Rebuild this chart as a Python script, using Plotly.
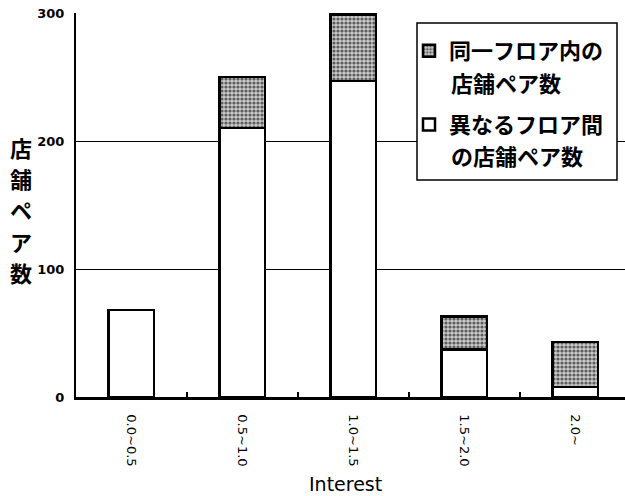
import plotly.graph_objects as go

# Interest ranges and store-pair counts
categories = ["0.0~0.5", "0.5~1.0", "1.0~1.5", "1.5~2.0", "2.0~"]
between_floors = [68, 210, 247, 37, 8]      # pairs on different floors
same_floor = [0, 40, 52, 26, 35]            # pairs on the same floor
y_ticks = [0, 100, 200, 300]

# legend labels, two lines each
label_same = ["同一フロア内の", "店舗ペア数"]
label_between = ["異なるフロア間", "の店舗ペア数"]
y_title_chars = ["店", "舗", "ペ", "ア", "数"]

JP_FONT = "Noto Sans CJK JP"
PLOT_TOP, PLOT_H, PLOT_L, PLOT_W = 13, 384, 76, 549


def px_x(x):
    return (x - PLOT_L) / PLOT_W


def px_y(y):
    return 1 - (y - PLOT_TOP) / PLOT_H


fig = go.Figure()
fig.add_trace(go.Bar(
    x=categories, y=between_floors, name=label_between[0],
    marker=dict(color="white", line=dict(color="black", width=2.5)),
    legendgroup="between", legendrank=2,
))
fig.add_trace(go.Bar(
    x=categories, y=same_floor, name=label_same[0],
    marker=dict(
        color="#b8b8b8",
        line=dict(color="black", width=2.5),
        pattern=dict(shape=".", fgcolor="#5c5c5c", bgcolor="#cacaca",
                     size=4, solidity=0.5, fillmode="replace"),
    ),
    legendgroup="same", legendrank=1,
))

annotations = []
# vertical y-axis title, one character per line
for i, ch in enumerate(y_title_chars):
    annotations.append(dict(
        text=ch, xref="paper", yref="paper",
        x=px_x(21), y=px_y(147 + 31.2 * i),
        xanchor="center", yanchor="middle", showarrow=False,
        font=dict(family=JP_FONT, size=22, color="black", weight="bold"),
    ))
# second lines of the legend labels
for text, ypix in [(label_same[1], 82), (label_between[1], 155)]:
    annotations.append(dict(
        text=text, xref="paper", yref="paper",
        x=px_x(449), y=px_y(ypix), xanchor="left", yanchor="middle",
        showarrow=False,
        font=dict(family=JP_FONT, size=22, color="black", weight="bold"),
    ))
annotations.append(dict(
    text="Interest", xref="paper", yref="paper",
    x=0.49, y=px_y(484), xanchor="center", yanchor="middle",
    showarrow=False,
    font=dict(family="DejaVu Sans", size=19, color="black"),
))

fig.update_layout(
    width=625, height=496,
    margin=dict(l=76, r=0, t=13, b=99),
    paper_bgcolor="white", plot_bgcolor="white",
    barmode="stack", bargap=0.59,
    showlegend=True,
    legend=dict(
        x=px_x(409), y=px_y(30), xanchor="left", yanchor="top",
        bgcolor="rgba(0,0,0,0)", borderwidth=0,
        font=dict(family=JP_FONT, size=22, color="black", weight="bold"),
        traceorder="grouped", valign="top", tracegroupgap=42,
    ),
    shapes=[dict(
        type="rect", xref="paper", yref="paper", layer="above",
        x0=px_x(417), x1=px_x(617), y0=px_y(180), y1=px_y(23),
        fillcolor="white", line=dict(color="black", width=1.5),
    )],
    xaxis=dict(
        type="category", range=[-0.5, 4.45],
        showline=True, linecolor="black", linewidth=2.5,
        ticks="inside", tickson="boundaries", ticklen=5, tickwidth=1.5,
        tickcolor="black", tickangle=90, ticklabelstandoff=12,
        tickfont=dict(family="DejaVu Sans", size=13, color="black"),
        showgrid=False,
    ),
    yaxis=dict(
        range=[0, 300], tickvals=y_ticks,
        showline=True, linecolor="black", linewidth=2,
        showgrid=True, gridcolor="black", gridwidth=1,
        zeroline=False, ticks="", ticklabelstandoff=7,
        tickfont=dict(family="DejaVu Sans", size=13, color="black", weight="bold"),
    ),
    annotations=annotations,
)

fig.write_html("out.html")
